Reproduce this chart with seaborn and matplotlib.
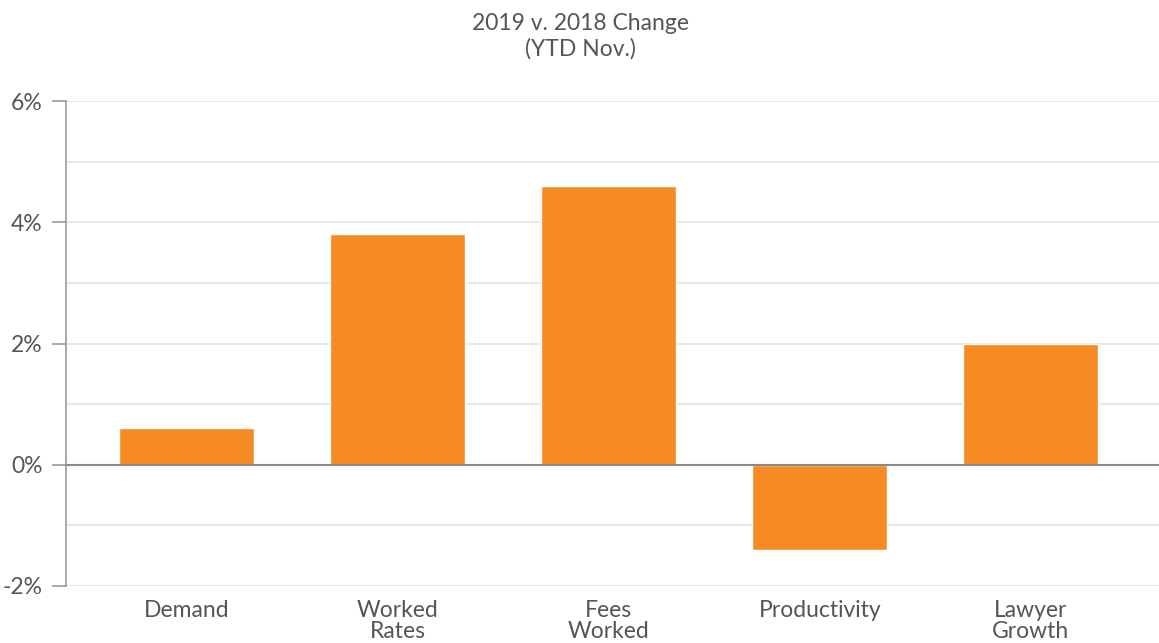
import pandas as pd
import numpy as np
import matplotlib.pyplot as plt
from matplotlib.ticker import FuncFormatter, MultipleLocator
import seaborn as sns

# ==========================================
# 0. 資料
# ==========================================
categories = ['Demand', 'Worked\nRates', 'Fees\nWorked', 'Productivity', 'Lawyer\nGrowth']
change_pct = [0.6, 3.8, 4.6, -1.4, 2.0]

BAR_COLOR = '#F58B22'
TEXT_COLOR = '#555555'

sns.set_theme(style='white')
plt.rcParams['font.family'] = ['Lato', 'DejaVu Sans']

df = pd.DataFrame({'cat': categories, 'val': change_pct})

fig = plt.figure(figsize=(11.59, 6.43), dpi=100)
ax = fig.add_axes([66 / 1159, 1 - 586 / 643, 1 - 66 / 1159, (586 - 101) / 643])

sns.barplot(data=df, x='cat', y='val', color=BAR_COLOR, saturation=1,
            width=0.64, ax=ax, zorder=3)

ax.set_xlim(-0.573, 4.607)
ax.set_ylim(-2, 6)

# 格線：每 1% 一條，標籤每 2%
ax.yaxis.set_major_locator(MultipleLocator(2))
ax.yaxis.set_minor_locator(MultipleLocator(1))
ax.yaxis.set_major_formatter(FuncFormatter(lambda v, p: f'{v:.0f}%'))
ax.grid(axis='y', which='both', color='#e4e4e4', linewidth=1.2, zorder=0)
ax.axhline(0, color='#8a8a8a', linewidth=1.5, zorder=4)

for s in ['top', 'right', 'bottom']:
    ax.spines[s].set_visible(False)
ax.spines['left'].set_color('#999999')
ax.spines['left'].set_linewidth(1.2)

ax.tick_params(axis='y', which='major', left=True, length=10, width=1.2,
               color='#999999', labelsize=16.5, labelcolor=TEXT_COLOR, pad=7)
ax.tick_params(axis='y', which='minor', left=False)
ax.tick_params(axis='x', bottom=False, labelsize=16.5, labelcolor=TEXT_COLOR, pad=4)
for lbl in ax.get_xticklabels():
    lbl.set_linespacing(1.0)

ax.set_xlabel('')
ax.set_ylabel('')

fig.text(580 / 1159, 1 - 36 / 643, '2019 v. 2018 Change\n(YTD Nov.)', ha='center', va='center',
         fontsize=16.5, color=TEXT_COLOR, linespacing=1.25)

fig.savefig('out.png', dpi=100)
